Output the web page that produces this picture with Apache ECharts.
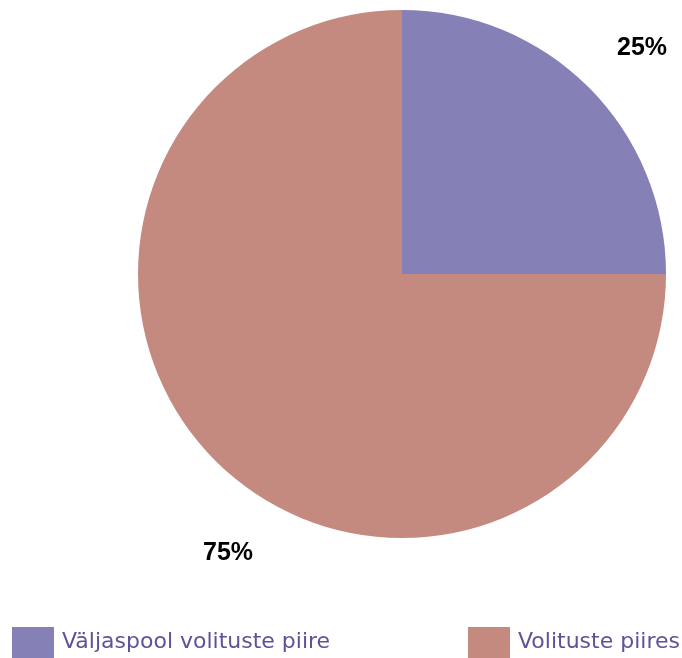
<!DOCTYPE html>
<html><head><meta charset="utf-8">
<script src="https://cdn.jsdelivr.net/npm/echarts@6/dist/echarts.min.js"></script>
<style>html,body{margin:0;padding:0;background:#fff}#c{width:682px;height:658px}</style>
</head><body><div id="c"></div>
<script>
const categories = ['Väljaspool volituste piire', 'Volituste piires'];
const values = [25, 75];
const colors = ['#8580b6', '#c48a80'];
const labelPos = [[642, 48], [228, 553]];

const chart = echarts.init(document.getElementById('c'));
const data = categories.map((n, i) => ({ name: n, value: values[i], itemStyle: { color: colors[i] } }));
const legendBase = {
  orient: 'horizontal', top: 622, itemWidth: 42, itemHeight: 31, itemGap: 8,
  icon: 'rect',
  textStyle: { color: '#5b5499', fontSize: 22, fontFamily: 'DejaVu Sans', padding: [0, 0, 0, 3] }
};
chart.setOption({
  animation: false,
  legend: [
    Object.assign({}, legendBase, { left: 7, data: [categories[0]] }),
    Object.assign({}, legendBase, { left: 463, data: [categories[1]] })
  ],
  series: [{
    type: 'pie',
    center: [402, 274],
    radius: 264,
    startAngle: 90,
    clockwise: true,
    data: data,
    label: {
      show: true, position: 'outside', overflow: 'none', width: 100,
      formatter: p => p.value + '%',
      color: '#000', fontSize: 25, fontWeight: 'bold', fontFamily: 'Liberation Sans'
    },
    labelLine: { show: false },
    labelLayout: p => ({ x: labelPos[p.dataIndex][0], y: labelPos[p.dataIndex][1], align: 'center', verticalAlign: 'middle' }),
    emphasis: { disabled: true }
  }]
});
</script></body></html>
